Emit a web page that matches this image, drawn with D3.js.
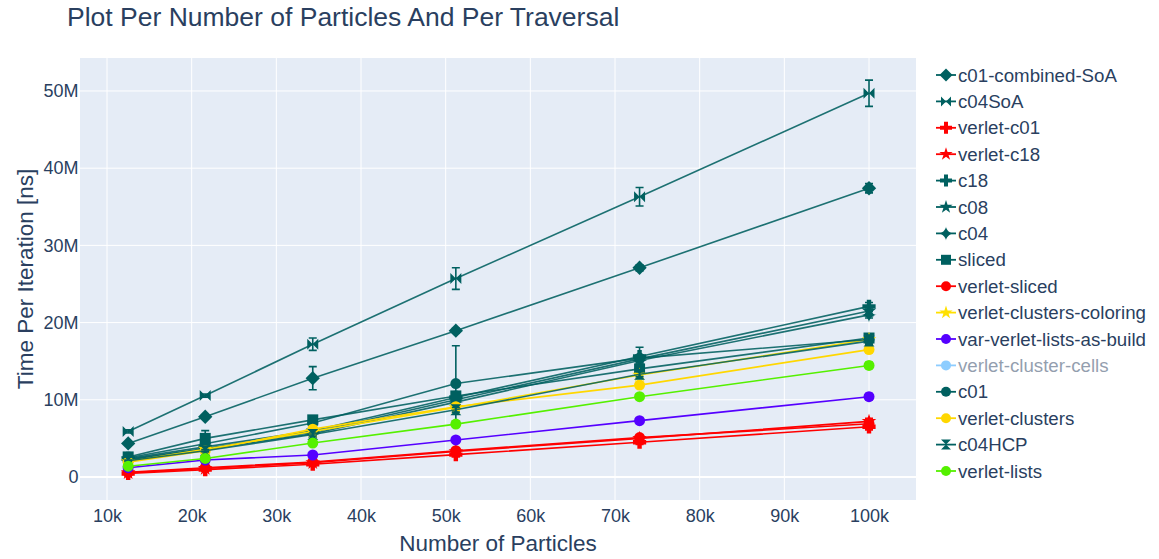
<!DOCTYPE html>
<html>
<head>
<meta charset="utf-8">
<script src="https://cdn.jsdelivr.net/npm/d3@7"></script>
<style>
  body { margin: 0; background: #fff; }
  svg { font-family: "Liberation Sans", Arial, sans-serif; }
</style>
</head>
<body>
<svg width="1159" height="559"></svg>
<script>
// particle counts (x values)
var particles = [12500, 21600, 34300, 51200, 72900, 100000];

var seriesNames = ["c01-combined-SoA", "c04SoA", "verlet-c01", "verlet-c18", "c18", "c08", "c04",
    "sliced", "verlet-sliced", "verlet-clusters-coloring", "var-verlet-lists-as-build",
    "verlet-cluster-cells", "c01", "verlet-clusters", "c04HCP", "verlet-lists"];

// time per iteration, in millions of ns
var c01CombinedSoA = [4.35, 7.8, 12.8, 18.95, 27.1, 37.4];
var c04SoA = [5.9, 10.55, 17.2, 25.7, 36.3, 49.7];
var verletC01 = [0.45, 0.95, 1.65, 2.9, 4.5, 6.5];
var verletC18 = [0.55, 1.1, 1.85, 3.3, 5.0, 7.2];
var c18 = [2.4, 3.9, 6.0, 10.3, 15.6, 22.1];
var c08 = [2.3, 3.7, 5.8, 10.0, 15.3, 21.5];
var c04 = [2.2, 3.6, 5.6, 9.7, 15.1, 21.0];
var sliced = [2.6, 5.0, 7.4, 10.5, 14.0, 18.0];
var verletSliced = [0.6, 1.2, 1.95, 3.4, 5.1, 6.9];
var verletClustersColoring = [2.0, 3.6, 5.9, 9.0, 13.2, 17.8];
var varVerletListsAsBuild = [1.2, 2.2, 2.85, 4.8, 7.3, 10.4];
var verletClusterCells = [1.5, 2.6, 4.5, 7.0, 10.5, 14.6];
var c01 = [2.5, 4.3, 7.0, 12.1, 15.4, 17.8];
var verletClusters = [1.9, 3.4, 6.2, 9.1, 11.9, 16.5];
var c04HCP = [2.1, 3.4, 5.5, 8.7, 13.3, 17.6];
var verletLists = [1.4, 2.4, 4.4, 6.85, 10.4, 14.45];

// symmetric error bars, millions of ns
var errC01CombinedSoA = [0.15, 0.2, 1.5, 0.3, 0.4, 0.6];
var errC04SoA = [0.2, 0.2, 0.8, 1.4, 1.2, 1.7];
var errSmall = [0.1, 0.15, 0.2, 0.3, 0.3, 0.4];
var errC18 = [0.2, 0.3, 0.3, 0.4, 1.2, 0.5];
var errSliced = [0.2, 1.0, 0.3, 0.4, 0.4, 0.4];
var errC01 = [0.2, 0.3, 0.3, 4.9, 0.4, 0.4];

var xTicks = [10000, 20000, 30000, 40000, 50000, 60000, 70000, 80000, 90000, 100000];
var yTicks = [0, 10, 20, 30, 40, 50];

var teal = "#006060";
var markerSize = 11;
var traces = [
    { name: seriesNames[0], values: c01CombinedSoA, err: errC01CombinedSoA, color: teal, symbol: "diamond" },
    { name: seriesNames[1], values: c04SoA, err: errC04SoA, color: teal, symbol: "bowtie" },
    { name: seriesNames[2], values: verletC01, err: errSmall, color: "#ff0000", symbol: "cross" },
    { name: seriesNames[3], values: verletC18, err: errSmall, color: "#ff0000", symbol: "star" },
    { name: seriesNames[4], values: c18, err: errC18, color: teal, symbol: "cross" },
    { name: seriesNames[5], values: c08, err: errSmall, color: teal, symbol: "star" },
    { name: seriesNames[6], values: c04, err: errSmall, color: teal, symbol: "star-diamond" },
    { name: seriesNames[7], values: sliced, err: errSliced, color: teal, symbol: "square" },
    { name: seriesNames[8], values: verletSliced, err: errSmall, color: "#ff0000", symbol: "circle" },
    { name: seriesNames[9], values: verletClustersColoring, err: errSmall, color: "#ffe000", symbol: "star" },
    { name: seriesNames[10], values: varVerletListsAsBuild, err: errSmall, color: "#5500ff", symbol: "circle" },
    { name: seriesNames[11], values: verletClusterCells, err: errSmall, color: "#1e9cff", symbol: "circle", hidden: true },
    { name: seriesNames[12], values: c01, err: errC01, color: teal, symbol: "circle" },
    { name: seriesNames[13], values: verletClusters, err: errSmall, color: "#ffd700", symbol: "circle" },
    { name: seriesNames[14], values: c04HCP, err: errSmall, color: teal, symbol: "hourglass" },
    { name: seriesNames[15], values: verletLists, err: errSmall, color: "#55f000", symbol: "circle" }
];

var svg = d3.select("svg"),
    width = +svg.attr("width"),
    height = +svg.attr("height");
var margin = { top: 58, right: 243, bottom: 59, left: 80 };
var plotW = width - margin.left - margin.right,
    plotH = height - margin.top - margin.bottom;
var textColor = "#2a3f5f";

var x = d3.scaleLinear().domain([6810, 105550]).range([0, plotW]);
var y = d3.scaleLinear().domain([-2.98, 54.27]).range([plotH, 0]);

// plotly-like marker shapes, d = marker size
function symbolPath(sym, d) {
    var r = d / 2;
    if (sym === "circle") {
        return "M" + r + ",0A" + r + "," + r + " 0 1,1 0,-" + r + "A" + r + "," + r + " 0 0,1 " + r + ",0Z";
    }
    if (sym === "square") {
        return "M" + r + "," + r + "H-" + r + "V-" + r + "H" + r + "Z";
    }
    if (sym === "diamond") {
        var rd = r * 1.3;
        return "M" + rd + ",0L0," + rd + "L-" + rd + ",0L0,-" + rd + "Z";
    }
    if (sym === "cross") {
        var rc = r * 0.4, rc2 = r * 1.2;
        return "M" + rc2 + "," + rc + "H" + rc + "V" + rc2 + "H-" + rc + "V" + rc + "H-" + rc2 + "V-" + rc +
            "H-" + rc + "V-" + rc2 + "H" + rc + "V-" + rc + "H" + rc2 + "Z";
    }
    if (sym === "star") {
        var rs = r * 1.4;
        var x1 = rs * 0.225, x2 = rs * 0.951, x3 = rs * 0.363, x4 = rs * 0.588,
            y1 = -rs, y2 = -rs * 0.309, y3 = rs * 0.118, y4 = rs * 0.809, y5 = rs * 0.382;
        return "M" + x1 + "," + y2 + "H" + x2 + "L" + x3 + "," + y3 + "L" + x4 + "," + y4 + "L0," + y5 +
            "L-" + x4 + "," + y4 + "L-" + x3 + "," + y3 + "L-" + x2 + "," + y2 + "H-" + x1 + "L0," + y1 + "Z";
    }
    if (sym === "star-diamond") {
        var s = r * 1.4, c = r * 0.8;
        return "M-" + s + ",0C-" + c + ",0 0,-" + c + " 0,-" + s + "C0,-" + c + " " + c + ",0 " + s + ",0C" +
            c + ",0 0," + c + " 0," + s + "C0," + c + " -" + c + ",0 -" + s + ",0Z";
    }
    if (sym === "hourglass") {
        return "M" + r + "," + r + "H-" + r + "L" + r + ",-" + r + "H-" + r + "Z";
    }
    if (sym === "bowtie") {
        return "M" + r + "," + r + "V-" + r + "L-" + r + "," + r + "V-" + r + "Z";
    }
}

// title
svg.append("text")
    .attr("x", 67).attr("y", 26)
    .attr("font-size", 26.5)
    .attr("fill", textColor)
    .text("Plot Per Number of Particles And Per Traversal");

var g = svg.append("g").attr("transform", "translate(" + margin.left + "," + margin.top + ")");

g.append("rect")
    .attr("width", plotW).attr("height", plotH)
    .attr("fill", "#e5ecf6");

// grid
g.selectAll(".xgrid").data(xTicks).enter().append("line")
    .attr("x1", function(d) { return x(d); }).attr("x2", function(d) { return x(d); })
    .attr("y1", 0).attr("y2", plotH)
    .attr("stroke", "#fff").attr("stroke-width", 1);
g.selectAll(".ygrid").data(yTicks).enter().append("line")
    .attr("x1", 0).attr("x2", plotW)
    .attr("y1", function(d) { return y(d); }).attr("y2", function(d) { return y(d); })
    .attr("stroke", "#fff").attr("stroke-width", function(d) { return d === 0 ? 2 : 1; });

// axes via d3 axis, then strip lines
var xAxis = g.append("g")
    .attr("transform", "translate(0," + plotH + ")")
    .call(d3.axisBottom(x).tickValues(xTicks).tickSize(0).tickPadding(9)
        .tickFormat(function(d) { return (d / 1000) + "k"; }));
var yAxis = g.append("g")
    .call(d3.axisLeft(y).tickValues(yTicks).tickSize(0).tickPadding(1.5)
        .tickFormat(function(d) { return d === 0 ? "0" : d + "M"; }));
[xAxis, yAxis].forEach(function(a) {
    a.select(".domain").remove();
    a.selectAll("text").attr("font-size", 18).attr("fill", textColor)
        .attr("font-family", "'Liberation Sans', Arial, sans-serif");
});

svg.append("text")
    .attr("x", margin.left + plotW / 2).attr("y", 551)
    .attr("text-anchor", "middle").attr("font-size", 22.5).attr("fill", textColor)
    .text("Number of Particles");
svg.append("text")
    .attr("transform", "translate(33," + (margin.top + plotH / 2) + ") rotate(-90)")
    .attr("text-anchor", "middle").attr("font-size", 22.5).attr("fill", textColor)
    .text("Time Per Iteration [ns]");

var line = d3.line()
    .x(function(d, i) { return x(particles[i]); })
    .y(function(d) { return y(d); });

var plotLayer = g.append("g");
traces.forEach(function(t) {
    if (t.hidden) return;
    var tg = plotLayer.append("g");
    tg.append("path")
        .attr("d", line(t.values))
        .attr("fill", "none")
        .attr("stroke", t.color)
        .attr("stroke-opacity", t.color === teal ? 0.88 : 1)
        .attr("stroke-width", 1.6);
    // error bars
    tg.selectAll(".err").data(t.values).enter().append("path")
        .attr("d", function(d, i) {
            var px = x(particles[i]), top = y(d + t.err[i]), bot = y(d - t.err[i]);
            return "M" + px + "," + top + "V" + bot +
                "M" + (px - 4) + "," + top + "H" + (px + 4) +
                "M" + (px - 4) + "," + bot + "H" + (px + 4);
        })
        .attr("fill", "none").attr("stroke", t.color).attr("stroke-width", 1.6);
    tg.selectAll(".pt").data(t.values).enter().append("path")
        .attr("transform", function(d, i) { return "translate(" + x(particles[i]) + "," + y(d) + ")"; })
        .attr("d", symbolPath(t.symbol, markerSize))
        .attr("fill", t.color);
});

// legend
var legend = svg.append("g").attr("transform", "translate(936,75)");
var item = legend.selectAll(".item").data(traces).enter().append("g")
    .attr("transform", function(d, i) { return "translate(0," + (i * 26.4) + ")"; })
    .attr("opacity", function(d) { return d.hidden ? 0.5 : 1; });
item.append("line")
    .attr("x1", 0).attr("x2", 20).attr("y1", 0).attr("y2", 0)
    .attr("stroke", function(d) { return d.color; }).attr("stroke-width", 1.8);
item.append("path")
    .attr("transform", "translate(10,0)")
    .attr("d", function(d) { return symbolPath(d.symbol, 10); })
    .attr("fill", function(d) { return d.color; });
item.append("text")
    .attr("x", 22).attr("y", 6.5)
    .attr("font-size", 18.7).attr("fill", textColor)
    .text(function(d) { return d.name; });
</script>
</body>
</html>
